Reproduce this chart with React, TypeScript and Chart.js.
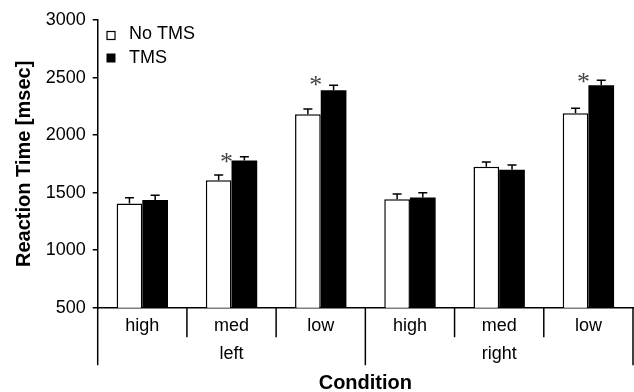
import React, { useEffect, useRef } from "react";
import { Chart, registerables } from "chart.js";

Chart.register(...registerables);

const conditions = ["high", "med", "low", "high", "med", "low"];
const sides = ["left", "right"];
const noTmsValues = [1406, 1608, 2181, 1443, 1724, 2190];
const noTmsErrors = [49, 46, 46, 44, 41, 44];
const tmsValues = [1435, 1779, 2390, 1458, 1698, 2434];
const tmsErrors = [43, 32, 43, 40, 41, 43];
const significant = [false, true, true, false, false, true];
const asteriskValues = [0, 1834, 2503, 0, 0, 2528];
const yTicks = [500, 1000, 1500, 2000, 2500, 3000];

const FONT = "'Liberation Sans', Arial, Helvetica, sans-serif";

const errorBarPlugin = {
  id: "errorBars",
  afterDatasetsDraw(chart: any) {
    const ctx = chart.ctx;
    const y = chart.scales.y;
    const errs = [noTmsErrors, tmsErrors];
    ctx.save();
    ctx.strokeStyle = "#000";
    ctx.lineWidth = 1.5;
    chart.data.datasets.forEach((ds: any, di: number) => {
      const meta = chart.getDatasetMeta(di);
      meta.data.forEach((el: any, i: number) => {
        const v = ds.data[i];
        const top = y.getPixelForValue(v);
        const e = y.getPixelForValue(v + errs[di][i]);
        ctx.beginPath();
        ctx.moveTo(el.x, top);
        ctx.lineTo(el.x, e);
        ctx.moveTo(el.x - 4.5, e);
        ctx.lineTo(el.x + 4.5, e);
        ctx.stroke();
      });
    });
    ctx.restore();
  },
};

const annotationsPlugin = {
  id: "annotations",
  afterDraw(chart: any) {
    const ctx = chart.ctx;
    const x = chart.scales.x;
    const y = chart.scales.y;
    const area = chart.chartArea;
    const n = conditions.length;
    const catW = (area.right - area.left) / n;
    const base = area.bottom;
    ctx.save();
    ctx.strokeStyle = "#000";
    ctx.lineWidth = 1.5;
    // separators
    for (let k = 0; k <= n; k++) {
      const px = area.left + k * catW;
      const long = k % 3 === 0;
      ctx.beginPath();
      ctx.moveTo(px, base);
      ctx.lineTo(px, base + (long ? 57.5 : 29.5));
      ctx.stroke();
    }
    ctx.fillStyle = "#000";
    ctx.textAlign = "center";
    ctx.textBaseline = "middle";
    ctx.font = `18px ${FONT}`;
    conditions.forEach((c, i) => {
      ctx.fillText(c, x.getPixelForValue(i), base + 18);
    });
    sides.forEach((s, g) => {
      const cx = area.left + (g * 3 + 1.5) * catW;
      ctx.fillText(s, cx, base + 46);
    });
    // axis titles
    ctx.font = `bold 20px ${FONT}`;
    ctx.fillText("Condition", (area.left + area.right) / 2, 383);
    ctx.save();
    ctx.translate(24, (area.top + area.bottom) / 2);
    ctx.rotate(-Math.PI / 2);
    ctx.fillText("Reaction Time [msec]", 0, 0);
    ctx.restore();
    // legend
    ctx.lineWidth = 1.2;
    ctx.fillStyle = "#fff";
    ctx.fillRect(107, 31.5, 8, 8);
    ctx.strokeRect(107, 31.5, 8, 8);
    ctx.fillStyle = "#000";
    ctx.fillRect(106.5, 53.5, 9, 9);
    ctx.textAlign = "left";
    ctx.font = `18px ${FONT}`;
    ctx.fillText("No TMS", 129, 34);
    ctx.fillText("TMS", 129, 58);
    // asterisks
    ctx.fillStyle = "#444";
    ctx.textAlign = "center";
    ctx.font = `26px 'Liberation Serif', 'Times New Roman', serif`;
    significant.forEach((s, i) => {
      if (!s) return;
      const px = x.getPixelForValue(i) - 5;
      const py = y.getPixelForValue(asteriskValues[i]);
      ctx.textBaseline = "alphabetic";
      ctx.fillText("*", px, py + 16);
    });
    ctx.restore();
  },
};

export default function App() {
  const ref = useRef<HTMLCanvasElement>(null);
  useEffect(() => {
    if (!ref.current) return;
    const chart = new Chart(ref.current, {
      type: "bar",
      data: {
        labels: conditions.map((c, i) => `${c}-${i}`),
        datasets: [
          {
            label: "No TMS",
            data: noTmsValues,
            backgroundColor: "#fff",
            borderColor: "#000",
            borderWidth: 1.5,
            categoryPercentage: 0.576,
            barPercentage: 1,
          },
          {
            label: "TMS",
            data: tmsValues,
            backgroundColor: "#000",
            borderColor: "#000",
            borderWidth: 0,
            categoryPercentage: 0.576,
            barPercentage: 1,
          },
        ],
      },
      options: {
        responsive: false,
        animation: false,
        devicePixelRatio: 1,
        layout: { padding: { top: 20, right: 1, left: 0, bottom: 0 } },
        plugins: { legend: { display: false }, tooltip: { enabled: false } },
        scales: {
          x: {
            type: "category",
            grid: { display: false },
            ticks: { display: false },
            border: { display: true, color: "#000", width: 1.5 },
            afterFit: (s: any) => {
              s.height = 84.3;
            },
          },
          y: {
            min: 500,
            max: 3000,
            afterBuildTicks: (s: any) => {
              s.ticks = yTicks.map((v) => ({ value: v }));
            },
            grid: {
              display: true,
              drawOnChartArea: false,
              drawTicks: true,
              tickLength: 5,
              color: "#000",
              lineWidth: 1.5,
            },
            border: { display: true, color: "#000", width: 1.5 },
            ticks: {
              color: "#000",
              padding: 7,
              font: { family: FONT, size: 18 },
              callback: (v: any) => String(v),
            },
            afterFit: (s: any) => {
              s.width = 97.7;
            },
          },
        },
      },
      plugins: [errorBarPlugin, annotationsPlugin],
    });
    return () => chart.destroy();
  }, []);
  return (
    <div style={{ position: "fixed", left: 0, top: 0, width: 634, height: 392, background: "#fff" }}>
      <canvas ref={ref} width={634} height={392} style={{ width: 634, height: 392 }} />
    </div>
  );
}
